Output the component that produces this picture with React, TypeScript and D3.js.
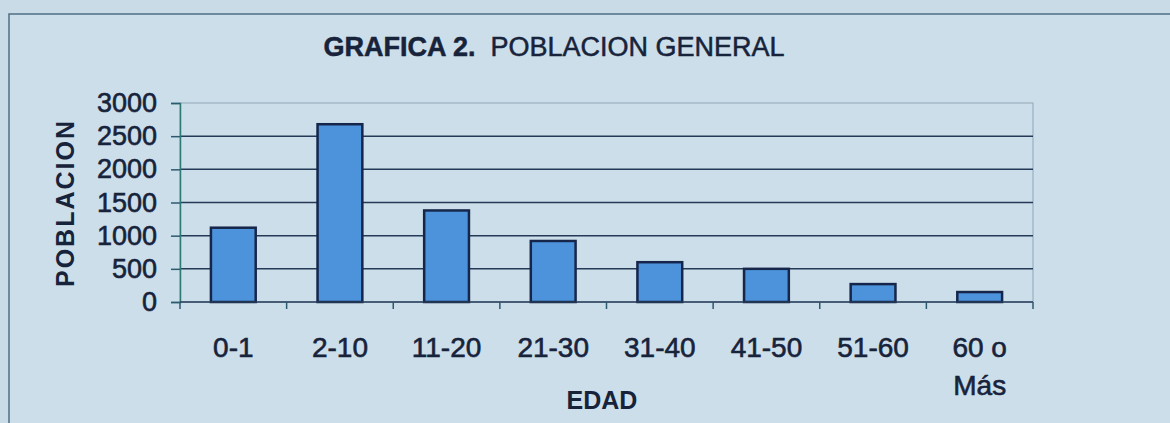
import React, { useEffect, useRef } from 'react';
import * as d3 from 'd3';

const categories = ['0-1', '2-10', '11-20', '21-30', '31-40', '41-50', '51-60', '60 o Más'];
const poblacion = [1120, 2680, 1380, 920, 600, 500, 270, 150];
const yTicks = [0, 500, 1000, 1500, 2000, 2500, 3000];

const App = () => {
    const ref = useRef<SVGSVGElement>(null);

    useEffect(() => {
        const width = 1170;
        const height = 423;
        const plot = { left: 180, right: 1033, top: 103, bottom: 302 };
        const font = '"Liberation Sans", Arial, sans-serif';
        const ink = '#17233b';

        const svg = d3.select(ref.current);
        svg.selectAll('*').remove();

        svg.append('rect')
            .attr('width', width)
            .attr('height', height)
            .attr('fill', '#c9dbe6');

        svg.append('rect')
            .attr('x', 9)
            .attr('y', 14)
            .attr('width', width + 20)
            .attr('height', height)
            .attr('fill', '#ccdee9')
            .attr('stroke', '#4f6f86')
            .attr('stroke-width', 1.5);

        const x = d3.scaleBand()
            .domain(categories)
            .range([plot.left, plot.right])
            .paddingInner(0.58)
            .paddingOuter(0.29);

        const y = d3.scaleLinear()
            .domain([0, 3000])
            .range([plot.bottom, plot.top]);

        // plot border (light)
        svg.append('rect')
            .attr('x', plot.left)
            .attr('y', plot.top)
            .attr('width', plot.right - plot.left)
            .attr('height', plot.bottom - plot.top)
            .attr('fill', 'none')
            .attr('stroke', '#8fa6b6')
            .attr('stroke-width', 1);

        svg.selectAll('.grid')
            .data(yTicks.filter(d => d > 0 && d < 3000))
            .enter().append('line')
            .attr('class', 'grid')
            .attr('x1', plot.left)
            .attr('x2', plot.right)
            .attr('y1', d => y(d))
            .attr('y2', d => y(d))
            .attr('stroke', '#243a58')
            .attr('stroke-width', 1.5);

        svg.selectAll('.bar')
            .data(poblacion)
            .enter().append('rect')
            .attr('class', 'bar')
            .attr('x', (d, i) => x(categories[i]))
            .attr('y', d => y(d))
            .attr('width', x.bandwidth())
            .attr('height', d => y(0) - y(d))
            .attr('fill', '#4d93dc')
            .attr('stroke', '#16254a')
            .attr('stroke-width', 2.5);

        // y axis
        const yAxis = svg.append('g')
            .attr('transform', `translate(${plot.left}, 0)`)
            .call(d3.axisLeft(y).tickValues(yTicks).tickFormat(d3.format('d')).tickSize(9).tickPadding(14));
        yAxis.select('.domain').attr('stroke', '#2c7a74').attr('stroke-width', 1.5);
        yAxis.selectAll('.tick line').attr('stroke', '#2c5a70').attr('stroke-width', 1.5);
        yAxis.selectAll('.tick text')
            .style('font-family', font)
            .style('font-size', '27px')
            .attr('fill', ink)
            .attr('stroke', ink)
            .attr('stroke-width', 0.6);

        // x axis
        const step = x.step();
        const bounds = d3.range(categories.length + 1).map(i => plot.left + i * step);
        svg.append('line')
            .attr('x1', plot.left)
            .attr('x2', plot.right)
            .attr('y1', plot.bottom)
            .attr('y2', plot.bottom)
            .attr('stroke', '#243a58')
            .attr('stroke-width', 1.5);
        svg.selectAll('.xtick')
            .data(bounds)
            .enter().append('line')
            .attr('x1', d => d)
            .attr('x2', d => d)
            .attr('y1', plot.bottom)
            .attr('y2', plot.bottom + 7)
            .attr('stroke', '#2c5a70')
            .attr('stroke-width', 1.5);

        const xl = svg.selectAll('.xlabel')
            .data(categories)
            .enter().append('text')
            .attr('x', d => x(d) + x.bandwidth() / 2)
            .attr('y', 357)
            .attr('text-anchor', 'middle')
            .style('font-family', font)
            .style('font-size', '28px')
            .attr('fill', ink)
            .attr('stroke', ink)
            .attr('stroke-width', 0.6);
        xl.each(function (d) {
            const t = d3.select(this);
            const parts = d.startsWith('60') ? ['60 o', 'Más'] : [d];
            parts.forEach((p, i) => {
                t.append('tspan')
                    .attr('x', x(d) + x.bandwidth() / 2)
                    .attr('dy', i === 0 ? 0 : 38)
                    .text(p);
            });
        });

        // titles
        const title = svg.append('text')
            .attr('x', 554)
            .attr('y', 56)
            .attr('text-anchor', 'middle')
            .style('font-family', font)
            .style('font-size', '27px')
            .attr('fill', ink)
            .attr('stroke', ink)
            .attr('stroke-width', 0.5);
        title.append('tspan').attr('font-weight', 'bold').text('GRAFICA 2.');
        title.append('tspan').text('\u00a0 POBLACION GENERAL');

        svg.append('text')
            .attr('x', 602)
            .attr('y', 409)
            .attr('text-anchor', 'middle')
            .style('font-family', font)
            .style('font-size', '25px')
            .attr('font-weight', 'bold')
            .attr('fill', ink)
            .text('EDAD');

        svg.append('text')
            .attr('transform', 'translate(74, 203) rotate(-90)')
            .attr('text-anchor', 'middle')
            .style('font-family', font)
            .style('font-size', '25px')
            .style('letter-spacing', '2px')
            .attr('font-weight', 'bold')
            .attr('fill', ink)
            .text('POBLACION');
    }, []);

    return (
        <svg
            ref={ref}
            width={1170}
            height={423}
            style={{ position: 'absolute', left: 0, top: 0 }}
        />
    );
};

export default App;
